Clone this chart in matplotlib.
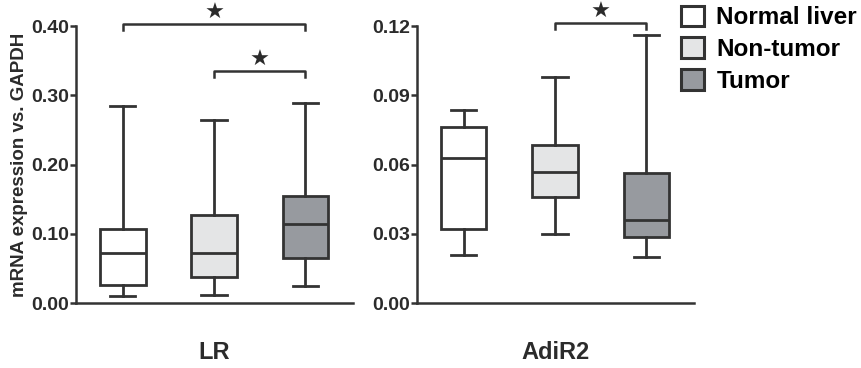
import matplotlib.pyplot as plt
from matplotlib.patches import Patch

plt.rcParams['font.family'] = ['Liberation Sans', 'DejaVu Sans']
plt.rcParams['font.weight'] = 'bold'

groups = ['Normal liver', 'Non-tumor', 'Tumor']
colors = ['#ffffff', '#e4e5e6', '#979a9f']
edge = '#333333'

# LR box statistics (min, q1, median, q3, max)
lr_lo = [0.0106, 0.012, 0.025]
lr_q1 = [0.026, 0.0385, 0.065]
lr_med = [0.072, 0.073, 0.115]
lr_q3 = [0.107, 0.128, 0.155]
lr_hi = [0.285, 0.264, 0.289]

# AdiR2 box statistics
ad_lo = [0.021, 0.030, 0.020]
ad_q1 = [0.032, 0.046, 0.0286]
ad_med = [0.063, 0.057, 0.036]
ad_q3 = [0.0765, 0.0684, 0.0562]
ad_hi = [0.0835, 0.098, 0.116]

# significance brackets: (from group, to group, height)
lr_sig = [(1, 3, 0.403), (2, 3, 0.335)]
ad_sig = [(2, 3, 0.1213)]

fig = plt.figure(figsize=(8.61, 3.68), dpi=100)
ax1 = fig.add_axes([0.0883, 0.176, 0.3217, 0.753])
ax2 = fig.add_axes([0.4843, 0.176, 0.3217, 0.753])


def draw(ax, lo, q1, med, q3, hi, sig, ymax, ticks, title):
    stats = []
    for i in range(3):
        stats.append(dict(whislo=lo[i], q1=q1[i], med=med[i], q3=q3[i], whishi=hi[i], fliers=[]))
    lw = 2.0
    bp = ax.bxp(stats, positions=[1, 2, 3], widths=0.5, patch_artist=True,
                showfliers=False, capwidths=0.28,
                boxprops=dict(edgecolor=edge, linewidth=lw),
                medianprops=dict(color=edge, linewidth=lw),
                whiskerprops=dict(color=edge, linewidth=lw),
                capprops=dict(color=edge, linewidth=lw))
    for b, c in zip(bp['boxes'], colors):
        b.set_facecolor(c)
    ax.set_xlim(0.49, 3.52)
    ax.set_ylim(0, ymax)
    ax.set_yticks(ticks)
    ax.set_yticklabels(['%.2f' % t for t in ticks], fontsize=14, fontweight='bold', color='#2b2b2b')
    ax.set_xticks([])
    for s in ['top', 'right']:
        ax.spines[s].set_visible(False)
    for s in ['left', 'bottom']:
        ax.spines[s].set_linewidth(1.8)
        ax.spines[s].set_color(edge)
    ax.tick_params(axis='y', length=4, width=1.8, color=edge, pad=1)
    ax.set_xlabel(title, fontsize=17, fontweight='bold', color='#2b2b2b', labelpad=27)
    d = ymax * 0.02
    for a, b, h in sig:
        ax.plot([a, a, b, b], [h - d, h, h, h - d], color=edge, linewidth=1.8, clip_on=False)
        ax.text((a + b) / 2, h + d * 0.2, '\u2605', ha='center', va='bottom', fontsize=16,
                color='#2b2b2b', family='DejaVu Sans', clip_on=False)


draw(ax1, lr_lo, lr_q1, lr_med, lr_q3, lr_hi, lr_sig, 0.40,
     [0.0, 0.1, 0.2, 0.3, 0.4], 'LR')
draw(ax2, ad_lo, ad_q1, ad_med, ad_q3, ad_hi, ad_sig, 0.12,
     [0.0, 0.03, 0.06, 0.09, 0.12], 'AdiR2')

ax1.set_ylabel('mRNA expression vs. GAPDH', fontsize=13.5, fontweight='bold', color='#2b2b2b', labelpad=2)

handles = [Patch(facecolor=c, edgecolor=edge, linewidth=2.2) for c in colors]
fig.legend(handles, groups, loc='upper left', bbox_to_anchor=(0.777, 1.018), frameon=False,
           handlelength=0.95, handleheight=0.95, handletextpad=0.5,
           labelspacing=0.32, borderpad=0.0, prop=dict(weight='bold', size=17.5))

fig.savefig('out.png', dpi=100)
